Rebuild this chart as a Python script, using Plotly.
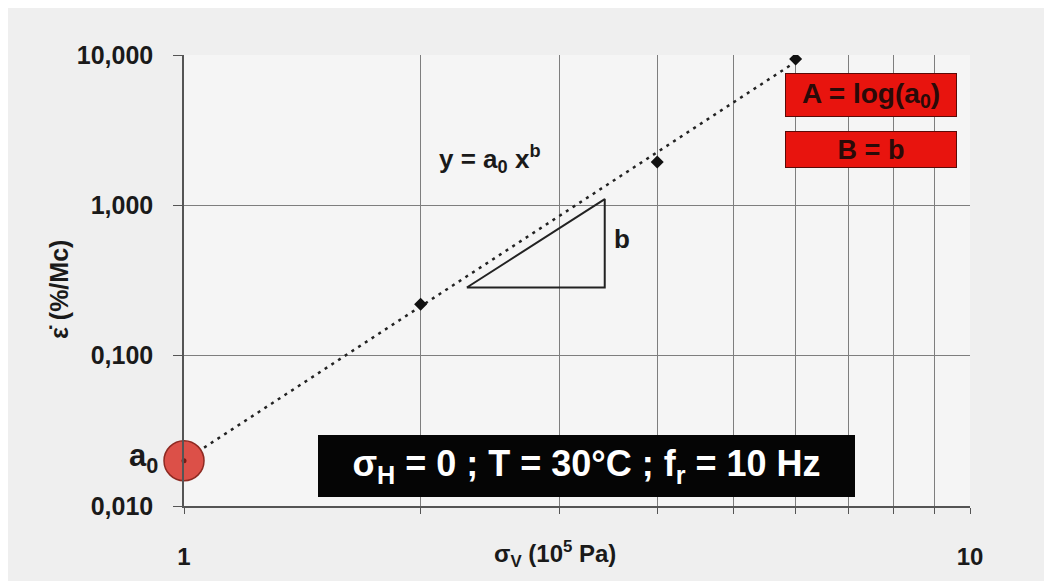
import numpy as np
import plotly.graph_objects as go

# measured points (sigma_v in 1e5 Pa, strain rate in %/Mc)
sigma_v = [2, 4, 6]
eps_rate = [0.22, 1.94, 9.4]

# intercept a0 at sigma_v = 1
a0_x = [1]
a0_y = [0.02]

# dotted power-law trend y = a0 x^b
trend_x = [1, 6]
trend_y = [0.02, 9.0]

# slope triangle
tri_x = [2.29, 3.43, 3.43, 2.29]
tri_y = [0.284, 0.284, 1.10, 0.284]

y_ticks = [0.01, 0.1, 1, 10]
y_text = ["0,010", "0,100", "1,000", "10,000"]
x_ticks = [1, 2, 3, 4, 5, 6, 7, 8, 9, 10]
x_text = ["1", "", "", "", "", "", "", "", "", "10"]

FONT = "Liberation Sans, Arial, sans-serif"
INK = "#1A1A1A"

fig = go.Figure()

fig.add_trace(go.Scatter(x=trend_x, y=trend_y, mode="lines",
    line=dict(color="#222222", width=2.5, dash="3px,5px"), showlegend=False))
fig.add_trace(go.Scatter(x=tri_x, y=tri_y, mode="lines",
    line=dict(color="#222222", width=2), showlegend=False))
fig.add_trace(go.Scatter(x=sigma_v, y=eps_rate, mode="markers",
    marker=dict(symbol="diamond", color="#111111", size=10), showlegend=False))
fig.add_trace(go.Scatter(x=a0_x, y=a0_y, mode="markers",
    marker=dict(symbol="circle", color="#DC5048", size=40,
                line=dict(color="#8E2A22", width=1.5)),
    cliponaxis=False, showlegend=False))
fig.add_trace(go.Scatter(x=a0_x, y=a0_y, mode="markers",
    marker=dict(symbol="circle", color="#7A1A14", size=5),
    cliponaxis=False, showlegend=False))

ann = dict(showarrow=False, font=dict(family=FONT, size=26, color=INK))
fig.add_annotation(x=np.log10(2.45), y=np.log10(2.03), xref="x", yref="y",
                   text="<b>y = a<sub>0</sub> x<sup>b</sup></b>", **ann)
fig.add_annotation(x=np.log10(3.61), y=np.log10(0.593), xref="x", yref="y",
                   text="<b>b</b>", **ann)
fig.add_annotation(x=-0.03, y=np.log10(0.0209), xref="paper", yref="y",
                   xanchor="right", text="<b>a<sub>0</sub></b>",
                   showarrow=False, font=dict(family=FONT, size=31, color=INK))
fig.add_annotation(x=(555 - 184) / 786, y=(506 - 573) / 451, xref="paper", yref="paper",
                   text="<b>σ<sub>V</sub> (10<sup>5</sup> Pa)</b>",
                   showarrow=False, font=dict(family=FONT, size=24, color=INK))
fig.add_annotation(x=(43 - 184) / 786, y=(506 - 290) / 451, xref="paper", yref="paper",
                   text="<b>ε̇ (%/Mc)</b>", textangle=-90,
                   showarrow=False, font=dict(family=FONT, size=25, color=INK))

box = dict(showarrow=False, xref="x", yref="y", borderpad=0)
fig.add_annotation(x=np.log10(7.48), y=np.log10(5.41), width=170, height=42,
                   bgcolor="#E8140E", bordercolor="#5A0A08", borderwidth=1,
                   text="<b>A = log(a<sub>0</sub>)</b>",
                   font=dict(family=FONT, size=28, color="#2A0A08"), **box)
fig.add_annotation(x=np.log10(7.48), y=np.log10(2.36), width=170, height=35,
                   bgcolor="#E8140E", bordercolor="#5A0A08", borderwidth=1,
                   text="<b>B = b</b>",
                   font=dict(family=FONT, size=27, color="#2A0A08"), **box)
fig.add_annotation(x=np.log10(3.25), y=np.log10(0.0185), width=535, height=60,
                   bgcolor="#050505", bordercolor="#050505", borderwidth=1,
                   text="<b>σ<sub>H</sub> = 0 ; T = 30°C ; f<sub>r</sub> = 10 Hz</b>",
                   font=dict(family=FONT, size=36, color="#FFFFFF"), **box)

fig.update_xaxes(type="log", range=[0, 1], tickvals=x_ticks, ticktext=x_text,
                 showgrid=True, gridcolor="#7E7E7E", gridwidth=1,
                 showline=True, linecolor="#555555", linewidth=1.5,
                 ticks="outside", ticklen=6, tickcolor="#555555",
                 ticklabelstandoff=22, zeroline=False,
                 tickfont=dict(family=FONT, size=24, color=INK, weight="bold"))
fig.update_yaxes(type="log", range=[-2, 1], tickvals=y_ticks, ticktext=y_text,
                 showgrid=True, gridcolor="#7E7E7E", gridwidth=1,
                 showline=True, linecolor="#555555", linewidth=1.5,
                 ticks="outside", ticklen=9, tickcolor="#555555",
                 ticklabelstandoff=15, zeroline=False,
                 tickfont=dict(family=FONT, size=25, color=INK, weight="bold"))

# page body adds an 8px offset, so the figure is shrunk to fit the window
fig.update_layout(width=1044, height=573,
                  margin=dict(l=176, r=82, t=47, b=75),
                  paper_bgcolor="#EFEFEF", plot_bgcolor="#F5F5F5",
                  showlegend=False)

fig.write_html("out.html")
